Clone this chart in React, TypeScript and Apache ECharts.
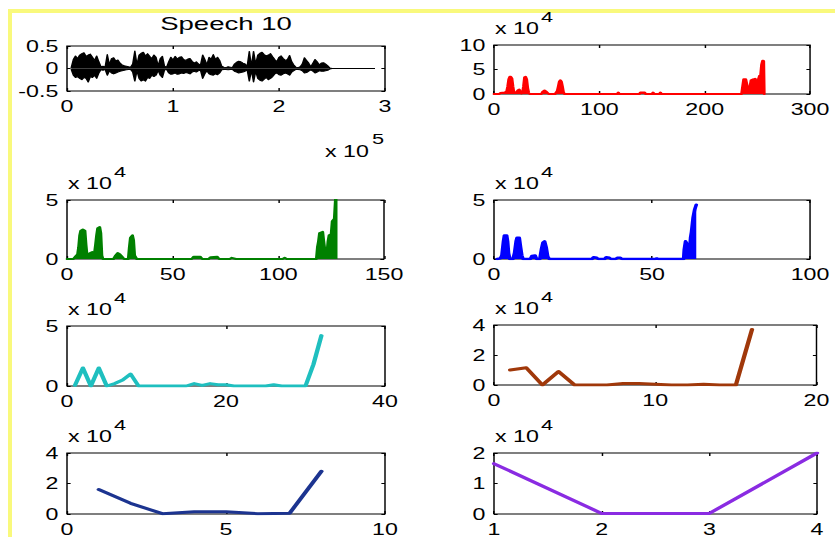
import React, { useEffect, useRef } from 'react';
import * as echarts from 'echarts';

// ---------- DATA ----------
// Panel 1: speech waveform envelope (sampled every 0.02 s from 0.04 s)
const SPEECH_T0 = 0.04;
const SPEECH_DT = 0.02;
const speechUpper = [
  0.02, 0.20, 0.28, 0.22, 0.30, 0.33, 0.35, 0.27, 0.30, 0.32,
  0.25, 0.18, 0.28, 0.15, 0.04, 0.05, 0.03, 0.31, 0.08, 0.22,
  0.24, 0.17, 0.19, 0.12, 0.08, 0.06, 0.05, 0.04, 0.03, 0.10,
  0.39, 0.08, 0.30, 0.34, 0.36, 0.28, 0.33, 0.27, 0.22, 0.30,
  0.25, 0.06, 0.22, 0.27, 0.05, 0.03, 0.15, 0.25, 0.19, 0.27,
  0.21, 0.25, 0.26, 0.20, 0.18, 0.21, 0.22, 0.16, 0.12, 0.15,
  0.10, 0.08, 0.30, 0.20, 0.08, 0.25, 0.21, 0.31, 0.20, 0.25,
  0.18, 0.05, 0.03, 0.02, 0.04, 0.03, 0.02, 0.10, 0.14, 0.16,
  0.15, 0.12, 0.10, 0.05, 0.38, 0.05, 0.38, 0.10, 0.30, 0.34,
  0.36, 0.31, 0.28, 0.30, 0.33, 0.26, 0.20, 0.15, 0.25, 0.28,
  0.22, 0.18, 0.20, 0.29, 0.15, 0.08, 0.03, 0.02, 0.04, 0.10,
  0.24, 0.18, 0.12, 0.04, 0.12, 0.20, 0.15, 0.08, 0.12, 0.13,
  0.10, 0.06, 0.01, 0, 0, 0, 0, 0, 0, 0,
  0, 0, 0, 0, 0, 0, 0, 0, 0, 0,
  0, 0, 0, 0,
];
const speechLower = [
  -0.02, -0.15, -0.20, -0.18, -0.22, -0.25, -0.20, -0.22, -0.30, -0.18,
  -0.20, -0.15, -0.22, -0.10, -0.03, -0.04, -0.02, -0.15, -0.05, -0.10,
  -0.12, -0.10, -0.08, -0.06, -0.05, -0.04, -0.03, -0.02, -0.02, -0.08,
  -0.28, -0.05, -0.22, -0.28, -0.25, -0.28, -0.20, -0.22, -0.15, -0.18,
  -0.15, -0.04, -0.15, -0.20, -0.03, -0.02, -0.10, -0.13, -0.12, -0.10,
  -0.13, -0.12, -0.10, -0.11, -0.09, -0.10, -0.12, -0.08, -0.06, -0.08,
  -0.05, -0.04, -0.22, -0.12, -0.05, -0.12, -0.14, -0.15, -0.12, -0.14,
  -0.10, -0.03, -0.02, -0.02, -0.03, -0.02, -0.02, -0.06, -0.08, -0.10,
  -0.09, -0.08, -0.06, -0.03, -0.28, -0.04, -0.30, -0.06, -0.22, -0.26,
  -0.28, -0.24, -0.20, -0.25, -0.22, -0.18, -0.12, -0.10, -0.14, -0.15,
  -0.12, -0.10, -0.12, -0.15, -0.08, -0.05, -0.02, -0.02, -0.03, -0.05,
  -0.10, -0.09, -0.06, -0.03, -0.06, -0.10, -0.08, -0.05, -0.06, -0.06,
  -0.05, -0.04, -0.01, 0, 0, 0, 0, 0, 0, 0,
  0, 0, 0, 0, 0, 0, 0, 0, 0, 0,
  0, 0, 0, 0,
];

// Panel 2 (red, x 10^4): [index, value]
const redPts: [number, number][] = [
  [0, 0], [5, 0], [6, 0.2], [10, 0.3], [12, 0.5], [13, 1.5], [14, 3.0], [15, 3.5], [16, 3.5], [17, 3.2],
  [18, 1.5], [19, 0.2], [21, 0.3], [23, 0.8], [24, 0.9], [25, 0.5], [26, 0.1], [27, 0.2], [28, 1.5],
  [29, 3.4], [30, 3.5], [31, 3.0], [32, 1.2], [33, 0.2], [34, 0], [45, 0], [46, 0.4], [48, 0.7],
  [50, 0.4], [52, 0], [58, 0], [60, 0.6], [61, 1.5], [62, 2.5], [63, 2.8], [64, 2.5], [65, 1.5],
  [66, 0.3], [67, 0], [117, 0], [118, 0.3], [119, 0], [138, 0], [139, 0.3], [143, 0.3], [144, 0],
  [150, 0], [151, 0.3], [152, 0], [157, 0], [158, 0.3], [159, 0], [235, 0], [236, 1.5], [237, 3.0],
  [239, 3.0], [240, 2.0], [241, 1.0], [242, 0.5], [243, 1.5], [244, 2.8], [246, 3.0], [247, 2.8],
  [248, 3.1], [249, 2.4], [250, 1.8], [251, 3.0], [252, 3.7], [253, 3.6], [254, 6.0], [255, 6.8],
  [256, 6.7], [256.5, 0],
];

// Panel 3 (green, x 10^4)
const greenPts: [number, number][] = [
  [0, 0], [3, 0], [4, 0.2], [5, 0.4], [5.5, 1.0], [6, 2.0], [6.5, 2.4], [7.5, 2.5], [8.5, 2.4], [9, 1.2],
  [9.5, 0.3], [10, 0.4], [11, 0.5], [12, 0.6], [13, 0.5], [13.5, 1.2], [14, 2.0], [14.5, 2.6], [15.5, 2.7],
  [16, 2.2], [16.5, 0.3], [17, 0], [22, 0], [23, 0.3], [24, 0.5], [25, 0.4], [26, 0.2], [27, 0], [29, 0],
  [29.5, 1.0], [30, 1.8], [31, 2.0], [31.5, 1.6], [32, 0.3], [33, 0], [59, 0], [60, 0.2], [63, 0.2],
  [64, 0], [67, 0], [68, 0.15], [71, 0.2], [72, 0], [77, 0], [78, 0.1], [80, 0], [102, 0], [103, 0.1],
  [104, 0], [118, 0], [118.5, 1.0], [119, 1.5], [119.5, 2.2], [121, 2.3], [121.5, 1.5], [122, 0.8],
  [123, 0.5], [123.5, 1.5], [124, 2.0], [125, 2.1], [125.5, 3.2], [126.5, 3.4], [127, 5.0], [128, 6.5],
];

// Panel 4 (blue, x 10^4)
const bluePts: [number, number][] = [
  [1, 0], [2, 0.05], [2.5, 0.3], [3, 1.5], [3.3, 2.0], [4, 2.0], [4.3, 1.5], [4.6, 0.5], [5, 0], [6, 0],
  [6.5, 0.5], [7, 1.5], [7.3, 1.8], [8, 1.8], [8.4, 1.0], [8.8, 0.3], [9.2, 0], [11.5, 0], [12, 0.25],
  [13, 0.3], [13.5, 0], [14.5, 0], [15, 0.8], [15.5, 1.4], [16, 1.5], [16.5, 1.0], [17, 0.2], [17.5, 0],
  [31, 0], [31.5, 0.15], [32.5, 0.1], [33, 0], [35, 0], [35.5, 0.15], [36.5, 0.1], [37, 0], [38.5, 0],
  [39, 0.1], [40, 0.1], [40.5, 0], [51, 0], [51.5, 0.05], [52, 0], [60, 0], [60.2, 0.8], [60.6, 1.5],
  [61, 1.3], [61.4, 0.3], [61.8, 0.5], [62.2, 1.8], [62.5, 2.3], [63, 3.5], [63.5, 4.2], [64, 4.6],
];

// Panels 5-8 (x 10^4), sample index starting at 1
const cyanVals = [
  0.05, 1.5, 0.0, 1.5, 0.0, 0.2, 0.5, 1.0, 0.0, 0, 0, 0, 0, 0, 0, 0.2,
  0.05, 0.2, 0.1, 0.1, 0, 0, 0, 0, 0, 0.1, 0, 0, 0, 0, 1.8, 4.2,
];
const brownVals = [1.0, 1.15, 0.0, 0.9, 0.0, 0.0, 0.0, 0.1, 0.1, 0.05, 0, 0, 0.05, 0, 0, 3.7];
const navyVals = [1.6, 0.7, 0.02, 0.15, 0.15, 0.02, 0.05, 2.8];
const purpleVals = [1.65, 0.02, 0.02, 2.0];

const titleText = 'Speech 10';
const exponents = [5, 4, 4, 4, 4, 4, 4, 4];

// ---------- LAYOUT ----------
const SX = 1.45; // horizontal stretch of the reference figure
const CW = 575;
const CH = 537;
const FONT = '"Liberation Sans", Arial, sans-serif';

type Panel = {
  l: number; r: number; t: number; b: number;
  xMin: number; xMax: number; xInt: number;
  yMin: number; yMax: number; yInt: number;
};
const panels: Panel[] = [
  { l: 67, r: 385, t: 46, b: 91, xMin: 0, xMax: 3, xInt: 1, yMin: -0.5, yMax: 0.5, yInt: 0.5 },
  { l: 494, r: 818, t: 45, b: 94, xMin: 0, xMax: 300, xInt: 100, yMin: 0, yMax: 10, yInt: 5 },
  { l: 67, r: 384, t: 200, b: 259, xMin: 0, xMax: 150, xInt: 50, yMin: 0, yMax: 5, yInt: 5 },
  { l: 494, r: 817, t: 200, b: 259, xMin: 0, xMax: 100, xInt: 50, yMin: 0, yMax: 5, yInt: 5 },
  { l: 67, r: 385, t: 326, b: 386, xMin: 0, xMax: 40, xInt: 20, yMin: 0, yMax: 5, yInt: 5 },
  { l: 494, r: 817, t: 325, b: 385, xMin: 0, xMax: 20, xInt: 10, yMin: 0, yMax: 4, yInt: 2 },
  { l: 67, r: 385, t: 453, b: 516, xMin: 0, xMax: 10, xInt: 5, yMin: 0, yMax: 4, yInt: 2 },
  { l: 494, r: 817, t: 453, b: 516, xMin: 1, xMax: 4, xInt: 1, yMin: 0, yMax: 2, yInt: 1 },
];

function buildOption() {
  const grid: any[] = [];
  const xAxis: any[] = [];
  const yAxis: any[] = [];
  panels.forEach((p, i) => {
    grid.push({
      left: p.l / SX, width: (p.r - p.l) / SX, top: p.t, height: p.b - p.t,
      show: true, borderColor: '#000', borderWidth: 1, backgroundColor: 'transparent',
      containLabel: false,
    });
    const xBase = {
      type: 'value', gridIndex: i, min: p.xMin, max: p.xMax, interval: p.xInt,
      splitLine: { show: false },
      axisLine: { show: false, onZero: false },
      axisTick: { show: true, inside: true, length: 3, lineStyle: { color: '#000', width: 1 } },
    };
    xAxis.push({
      ...xBase, position: 'bottom',
      axisLabel: { show: true, color: '#000', fontSize: 16, fontFamily: FONT, margin: 7 },
    });
    xAxis.push({ ...xBase, position: 'top', axisLabel: { show: false } });
    const yBase = {
      type: 'value', gridIndex: i, min: p.yMin, max: p.yMax, interval: p.yInt,
      splitLine: { show: false },
      axisLine: { show: false, onZero: false },
      axisTick: { show: true, inside: true, length: 2.5, lineStyle: { color: '#000', width: 1 } },
    };
    yAxis.push({
      ...yBase, position: 'left',
      axisLabel: { show: true, color: '#000', fontSize: 16, fontFamily: FONT, margin: 6 },
    });
    yAxis.push({ ...yBase, position: 'right', axisLabel: { show: false } });
  });

  const line = (i: number, data: any[], color: string, width: number, fill: boolean) => ({
    type: 'line', xAxisIndex: 2 * i, yAxisIndex: 2 * i, data,
    showSymbol: false, symbol: 'none', silent: true, clip: true,
    lineStyle: { color, width, join: 'round', cap: 'round' },
    itemStyle: { color },
    areaStyle: fill ? { color, opacity: 1 } : undefined,
  });

  const upper = speechUpper.map((v, k) => [SPEECH_T0 + k * SPEECH_DT, v]);
  const lower = speechLower.map((v, k) => [SPEECH_T0 + k * SPEECH_DT, v]);
  const idx = (arr: number[]) => arr.map((v, k) => [k + 1, v]);

  const series = [
    line(0, upper, '#000000', 1, true),
    line(0, lower, '#000000', 1, true),
    line(1, redPts, '#FF0000', 2, true),
    line(2, greenPts, '#008000', 2, true),
    line(3, bluePts, '#0000FF', 2.5, true),
    line(4, idx(cyanVals), '#1FBFBF', 3, false),
    line(5, idx(brownVals), '#A0380A', 3, false),
    line(6, idx(navyVals), '#1C3490', 3, false),
    line(7, idx(purpleVals), '#8A2BE2', 3, false),
  ];

  const graphic: any[] = [];
  const p0 = panels[0];
  graphic.push({
    type: 'text', x: (p0.l + p0.r) / 2 / SX, y: 24,
    style: {
      text: titleText, fill: '#000', fontSize: 19, fontFamily: FONT,
      textAlign: 'center', textVerticalAlign: 'middle', align: 'center', verticalAlign: 'middle',
    },
  });
  exponents.forEach((e, i) => {
    const p = panels[i];
    let bx: number, by: number, ex: number, ey: number;
    if (i === 0) {
      bx = 325; by = 151; ex = 372; ey = 139;
    } else {
      bx = p.l + 1; by = p.t - 17; ex = p.l + 47; ey = p.t - 28;
    }
    graphic.push({
      type: 'text', x: bx / SX, y: by,
      style: {
        text: 'x 10', fill: '#000', fontSize: 16, fontFamily: FONT,
        textAlign: 'left', textVerticalAlign: 'middle', align: 'left', verticalAlign: 'middle',
      },
    });
    graphic.push({
      type: 'text', x: ex / SX, y: ey,
      style: {
        text: String(e), fill: '#000', fontSize: 15, fontFamily: FONT,
        textAlign: 'left', textVerticalAlign: 'middle', align: 'left', verticalAlign: 'middle',
      },
    });
  });

  return {
    animation: false,
    backgroundColor: 'transparent',
    grid, xAxis, yAxis, series, graphic,
  };
}

export default function App() {
  const ref = useRef<HTMLDivElement>(null);
  useEffect(() => {
    if (!ref.current) return;
    const chart = echarts.init(ref.current, undefined, { renderer: 'svg' });
    chart.setOption(buildOption() as any);
    return () => chart.dispose();
  }, []);
  return (
    <div style={{ position: 'absolute', left: 0, top: 0, width: 835, height: 537, overflow: 'hidden', background: '#fff' }}>
      <div
        style={{
          position: 'absolute', left: 8, top: 9, width: 900, height: 620,
          border: '4px solid #F9F97C', boxSizing: 'border-box',
        }}
      />
      <div
        ref={ref}
        style={{
          position: 'absolute', left: 0, top: 0, width: CW, height: CH,
          transform: `scaleX(${SX})`, transformOrigin: '0 0',
        }}
      />
    </div>
  );
}
